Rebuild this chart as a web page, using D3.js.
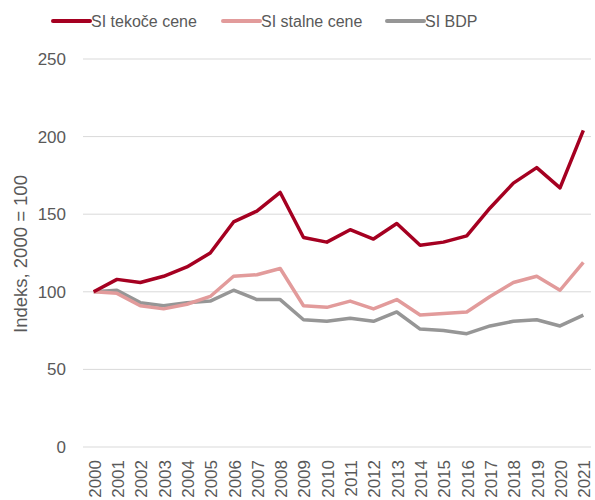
<!DOCTYPE html>
<html>
<head>
<meta charset="utf-8">
<script src="https://cdn.jsdelivr.net/npm/d3@7"></script>
<style>
  body { margin: 0; background: #fff; }
  svg text { font-family: "Liberation Sans", Arial, sans-serif; fill: #595959; }
</style>
</head>
<body>
<div id="chart"></div>
<script>
const years = ['2000','2001','2002','2003','2004','2005','2006','2007','2008','2009','2010',
               '2011','2012','2013','2014','2015','2016','2017','2018','2019','2020','2021'];
const tekoce = [100,108,106,110,116,125,145,152,164,135,132,140,134,144,130,132,136,154,170,180,167,204];
const stalne = [100,99,91,89,92,97,110,111,115,91,90,94,89,95,85,86,87,97,106,110,101,119];
const bdp = [100,101,93,91,93,94,101,95,95,82,81,83,81,87,76,75,73,78,81,82,78,85];
const yTicks = [0, 50, 100, 150, 200, 250];

const series = [
    { name: 'SI tekoče cene', values: tekoce, color: '#a50021' },
    { name: 'SI stalne cene', values: stalne, color: '#e29b9b' },
    { name: 'SI BDP', values: bdp, color: '#969696' }
];

const svgWidth = 595, svgHeight = 500;
const plotLeft = 82, plotRight = 595, plotTop = 59, plotBottom = 447;

const svg = d3.select('#chart')
              .append('svg')
              .attr('width', svgWidth)
              .attr('height', svgHeight);

const x = d3.scaleBand()
            .domain(years)
            .range([plotLeft, plotRight]);

const y = d3.scaleLinear()
            .domain([0, 250])
            .range([plotBottom, plotTop]);

// gridlines
svg.append('g')
   .selectAll('line')
   .data(yTicks)
   .enter()
   .append('line')
   .attr('x1', plotLeft + 1)
   .attr('x2', plotRight - 4)
   .attr('y1', d => y(d))
   .attr('y2', d => y(d))
   .attr('stroke', '#d9d9d9')
   .attr('stroke-width', 1);

// y-axis labels
const yAxis = d3.axisLeft(y).tickValues(yTicks).tickSize(0).tickPadding(0);
svg.append('g')
   .attr('transform', 'translate(' + (plotLeft - 16) + ',0)')
   .call(yAxis)
   .call(g => g.select('.domain').remove())
   .selectAll('text')
   .style('font-size', '17px')
   .attr('fill', '#595959');

// x-axis labels
const xAxis = d3.axisBottom(x).tickSize(0).tickPadding(0);
svg.append('g')
   .attr('transform', 'translate(0,' + plotBottom + ')')
   .call(xAxis)
   .call(g => g.select('.domain').remove())
   .selectAll('text')
   .style('font-size', '17px')
   .attr('fill', '#595959')
   .attr('text-anchor', 'end')
   .attr('transform', 'rotate(-90)')
   .attr('x', -13)
   .attr('y', 1)
   .attr('dy', '0.35em');

// y title
svg.append('text')
   .text('Indeks, 2000 = 100')
   .attr('transform', 'translate(27,254) rotate(-90)')
   .attr('text-anchor', 'middle')
   .style('font-size', '18.5px');

// lines
const line = d3.line()
               .x((d, i) => x(years[i]) + x.bandwidth() / 2)
               .y(d => y(d));

series.slice().reverse().forEach(s => {
    svg.append('path')
       .datum(s.values)
       .attr('d', line)
       .attr('fill', 'none')
       .attr('stroke', s.color)
       .attr('stroke-width', 3.5)
       .attr('stroke-linejoin', 'round');
});

// legend
const legendX = [53, 223, 387];
series.forEach((s, i) => {
    const g = svg.append('g').attr('transform', 'translate(' + legendX[i] + ',21)');
    g.append('line')
     .attr('x1', 0).attr('x2', 37)
     .attr('y1', 0).attr('y2', 0)
     .attr('stroke', s.color)
     .attr('stroke-width', 4)
     .attr('stroke-linecap', 'round');
    g.append('text')
     .text(s.name)
     .attr('x', 38)
     .attr('dy', '0.35em')
     .style('font-size', '16px');
});
</script>
</body>
</html>
